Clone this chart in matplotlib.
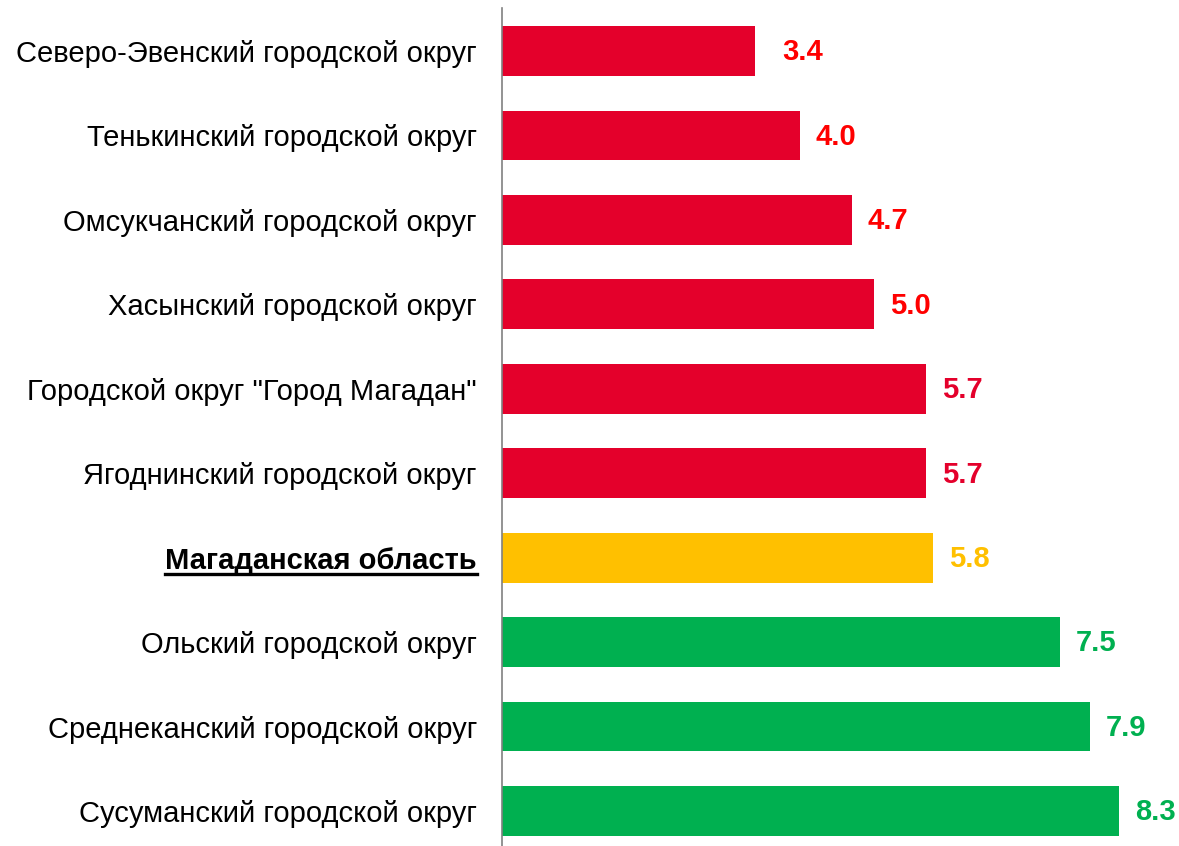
import matplotlib
matplotlib.use("Agg")
from matplotlib import pyplot as plt
from matplotlib.lines import Line2D

plt.rcParams['font.family'] = ['Liberation Sans', 'DejaVu Sans']

regions = [
    "Северо-Эвенский городской округ",
    "Тенькинский городской округ",
    "Омсукчанский городской округ",
    "Хасынский городской округ",
    "Городской округ \"Город Магадан\"",
    "Ягоднинский городской округ",
    "Магаданская область",
    "Ольский городской округ",
    "Среднеканский городской округ",
    "Сусуманский городской округ",
]
values = [3.4, 4.0, 4.7, 5.0, 5.7, 5.7, 5.8, 7.5, 7.9, 8.3]
bar_colors = ["#E4002B"] * 6 + ["#FFC000"] + ["#00B050"] * 3
label_colors = ["#FF0000"] * 4 + ["#E4002B"] * 2 + ["#FFC000"] + ["#00B050"] * 3
# label gap from bar end, in points (first label sits further out)
label_gaps = [20] + [11.5] * 9

fig = plt.figure(figsize=(11.79, 8.46), dpi=100)
ax = fig.add_axes([502 / 1179, 0, 1 - 502 / 1179, 1 - 8 / 846])

y = list(range(len(regions)))
ax.barh(y, values, height=0.59, color=bar_colors)
for i, v in enumerate(values):
    ax.annotate(f"{v:.1f}", (v, i), xytext=(label_gaps[i], -1), textcoords="offset points",
                ha="left", va="center", fontsize=21, fontweight="bold",
                color=label_colors[i])

ax.set_xlim(0, 9.1)
ax.set_ylim(9 + 35 / 84.4, -43 / 84.4)
ax.set_yticks(y)
ax.set_yticklabels(regions, fontsize=21)
ax.tick_params(axis="y", length=0, pad=18)
ax.set_xticks([])
for s in ["top", "right", "bottom"]:
    ax.spines[s].set_visible(False)
ax.spines["left"].set_color("#808080")
ax.spines["left"].set_linewidth(1.2)

# bold + underlined label for the region total
lbl = ax.get_yticklabels()[6]
lbl.set_fontweight("bold")
fig.canvas.draw()
bb = lbl.get_window_extent()
uy = bb.y0 + 1
fig.add_artist(Line2D([bb.x0 / fig.bbox.width, bb.x1 / fig.bbox.width],
                      [uy / fig.bbox.height, uy / fig.bbox.height],
                      color="black", linewidth=2.4, transform=fig.transFigure))

fig.savefig("out.png", dpi=100)
